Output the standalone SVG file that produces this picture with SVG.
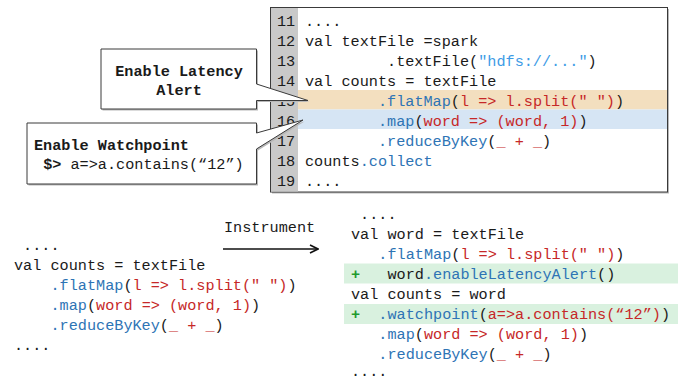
<svg xmlns="http://www.w3.org/2000/svg" width="685" height="381" viewBox="0 0 685 381">
<style>
.c{font-family:"Liberation Mono","DejaVu Sans Mono",monospace;font-size:15.2px;fill:#1a1a1a}
.bd{font-weight:bold}
.b{fill:#2e74b5}
.r{fill:#c62828}
.s{fill:#3d9be6}
.g{fill:#1f9a2e;font-weight:bold}
.box{fill:#fff;stroke:#3a3a3a;stroke-width:1}
.sh{fill:#b8b8b8}
</style>
<defs>
<marker id="ah" viewBox="0 0 10 10" refX="9" refY="5" markerWidth="10" markerHeight="10" markerUnits="userSpaceOnUse" orient="auto">
<path d="M1,1 L9,5 L1,9" fill="none" stroke="#111" stroke-width="1.6"/>
</marker>
</defs>

<g id="code-box">
<rect x="272" y="9" width="397" height="184.5" class="sh"/>
<rect x="270.5" y="7.5" width="397" height="184.5" class="box" stroke="#222"/>
<rect x="271" y="8" width="27" height="183.5" fill="#c9c9c9"/>
<rect x="298" y="90" width="369" height="19.5" fill="#f3dfbf"/>
<rect x="298" y="109.5" width="369" height="19.5" fill="#d6e5f4"/>
<g class="c">
<text x="277" y="26">11</text>
<text x="277" y="46">12</text>
<text x="277" y="66">13</text>
<text x="277" y="86">14</text>
<text x="277" y="106">15</text>
<text x="277" y="126">16</text>
<text x="277" y="146">17</text>
<text x="277" y="166">18</text>
<text x="277" y="186">19</text>
<text x="305" y="26" xml:space="preserve">....</text>
<text x="305" y="46" xml:space="preserve">val textFile =spark</text>
<text x="305" y="66" xml:space="preserve">         .textFile(<tspan class="s">"hdfs://..."</tspan>)</text>
<text x="305" y="86" xml:space="preserve">val counts = textFile</text>
<text x="305" y="106" xml:space="preserve">        <tspan class="b">.flatMap</tspan>(<tspan class="r">l =&gt; l.split(" ")</tspan>)</text>
<text x="305" y="126" xml:space="preserve">        <tspan class="b">.map</tspan>(<tspan class="r">word =&gt; (word, 1)</tspan>)</text>
<text x="305" y="146" xml:space="preserve">        <tspan class="b">.reduceByKey</tspan>(<tspan class="r">_ + _</tspan>)</text>
<text x="305" y="166" xml:space="preserve">counts<tspan class="b">.collect</tspan></text>
<text x="305" y="186" xml:space="preserve">....</text>
</g>
</g>

<g id="callout-latency">
<path d="M102.5,50.5 H258 V85.5 L309.5,102 L258,102 V110.5 H102.5 Z" class="sh"/>
<path d="M101,49 H256.5 V84 L308,100.5 L256.5,100.5 V109 H101 Z" class="box"/>
<text class="c bd" x="179" y="76" text-anchor="middle">Enable Latency</text>
<text class="c bd" x="179" y="95" text-anchor="middle">Alert</text>
</g>

<g id="callout-watchpoint">
<path d="M28.5,124.5 H258 V134.5 L304.5,121.5 L258,150.5 V185.5 H28.5 Z" class="sh"/>
<path d="M27,123 H256.5 V133 L303,120 L256.5,149 V184 H27 Z" class="box"/>
<text class="c bd" x="34" y="150">Enable Watchpoint</text>
<text class="c" x="34" y="169" xml:space="preserve"> <tspan class="bd">$&gt;</tspan> a=&gt;a.contains(“12”)</text>
</g>

<g id="original-code" class="c">
<text x="14" y="250" xml:space="preserve"> ....</text>
<text x="14" y="270" xml:space="preserve">val counts = textFile</text>
<text x="14" y="290" xml:space="preserve">    <tspan class="b">.flatMap</tspan>(<tspan class="r">l =&gt; l.split(" ")</tspan>)</text>
<text x="14" y="310" xml:space="preserve">    <tspan class="b">.map</tspan>(<tspan class="r">word =&gt; (word, 1)</tspan>)</text>
<text x="14" y="330" xml:space="preserve">    <tspan class="b">.reduceByKey</tspan>(<tspan class="r">_ + _</tspan>)</text>
<text x="14" y="350" xml:space="preserve">....</text>
</g>

<g id="connectors">
<line x1="223" y1="249" x2="318" y2="249" stroke="#111" stroke-width="1.6" marker-end="url(#ah)"/>
<text class="c" x="224" y="232">Instrument</text>
</g>

<g id="instrumented-code">
<rect x="344" y="263.5" width="334" height="20" fill="#d9f1df"/>
<rect x="344" y="304" width="334" height="20" fill="#d9f1df"/>
<g class="c">
<text x="351" y="219" xml:space="preserve"> ....</text>
<text x="351" y="239" xml:space="preserve">val word = textFile</text>
<text x="351" y="259" xml:space="preserve">   <tspan class="b">.flatMap</tspan>(<tspan class="r">l =&gt; l.split(" ")</tspan>)</text>
<text x="351" y="279" xml:space="preserve"><tspan class="g">+</tspan>   word<tspan class="b">.enableLatencyAlert</tspan>()</text>
<text x="351" y="299" xml:space="preserve">val counts = word</text>
<text x="351" y="319" xml:space="preserve"><tspan class="g">+</tspan>  <tspan class="b">.watchpoint</tspan>(<tspan class="r">a=&gt;a.contains(“12”)</tspan>)</text>
<text x="351" y="339" xml:space="preserve">   <tspan class="b">.map</tspan>(<tspan class="r">word =&gt; (word, 1)</tspan>)</text>
<text x="351" y="359" xml:space="preserve">   <tspan class="b">.reduceByKey</tspan>(<tspan class="r">_ + _</tspan>)</text>
<text x="351" y="376" xml:space="preserve">....</text>
</g>
</g>
</svg>
